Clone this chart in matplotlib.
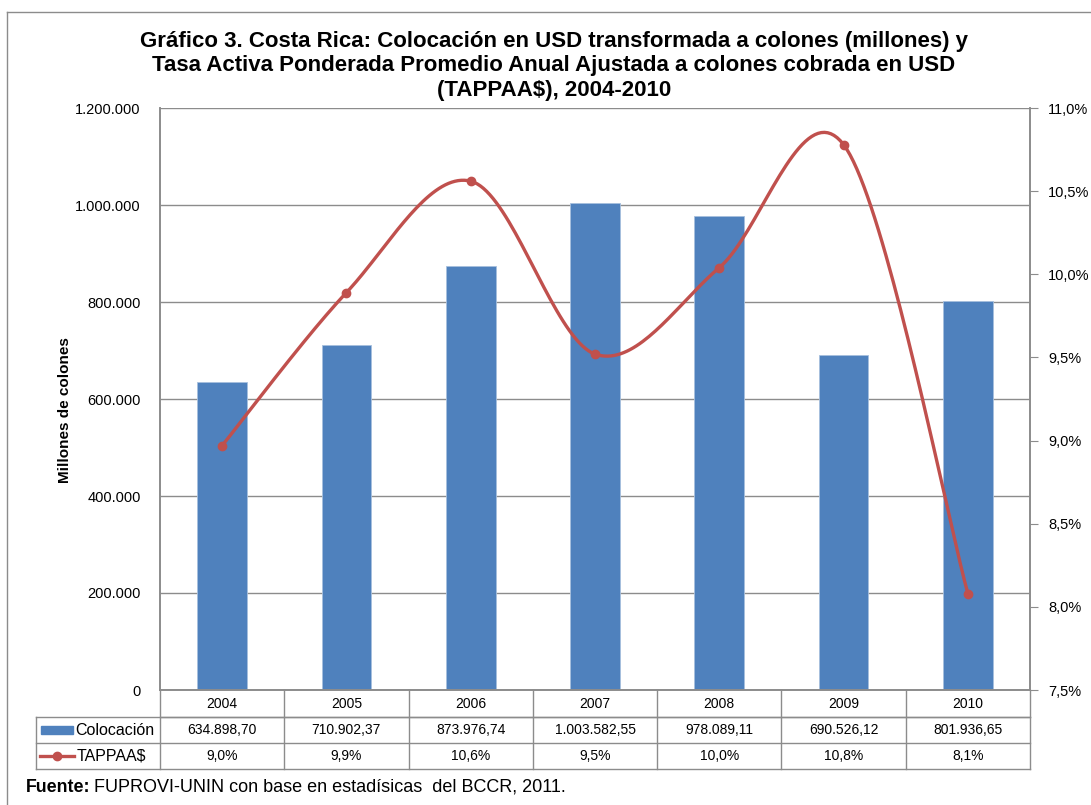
import numpy as np
import matplotlib
matplotlib.use("Agg")
import matplotlib.pyplot as plt
from matplotlib.lines import Line2D
from matplotlib.patches import Rectangle
from matplotlib.transforms import blended_transform_factory

plt.rcParams['font.family'] = ['Liberation Sans', 'DejaVu Sans']

# ---- data ----
years = ["2004", "2005", "2006", "2007", "2008", "2009", "2010"]
colocacion = [634898.70, 710902.37, 873976.74, 1003582.55, 978089.11, 690526.12, 801936.65]
tappaa = [8.97, 9.89, 10.56, 9.52, 10.04, 10.78, 8.08]
colocacion_labels = ["634.898,70", "710.902,37", "873.976,74", "1.003.582,55",
                     "978.089,11", "690.526,12", "801.936,65"]
tappaa_labels = ["9,0%", "9,9%", "10,6%", "9,5%", "10,0%", "10,8%", "8,1%"]
left_ticks = [0, 200000, 400000, 600000, 800000, 1000000, 1200000]
left_tick_labels = ["0", "200.000", "400.000", "600.000", "800.000", "1.000.000", "1.200.000"]
right_ticks = [7.5, 8.0, 8.5, 9.0, 9.5, 10.0, 10.5, 11.0]
right_tick_labels = ["7,5%", "8,0%", "8,5%", "9,0%", "9,5%", "10,0%", "10,5%", "11,0%"]

BLUE = "#4F81BD"
RED = "#C0504D"
GRID = "#8C8C8C"

W, H = 1091, 805
fig = plt.figure(figsize=(W / 100, H / 100), dpi=100)


def fx(px):
    return px / W


def fy(py):
    return 1 - py / H


# plot area in pixels
L, R, T, B = 160, 1030, 108, 690
ax = fig.add_axes([fx(L), fy(B), fx(R - L), (B - T) / H])
ax2 = ax.twinx()

x = np.arange(len(years))
ax.bar(x, colocacion, width=0.4, color=BLUE, edgecolor="#A7C0DE", linewidth=0.6, zorder=2)
ax.set_xlim(-0.5, len(years) - 0.5)
ax.set_ylim(0, 1200000)
ax.set_yticks(left_ticks)
ax.set_yticklabels(left_tick_labels, fontsize=10.5)
ax.set_xticks([])
ax.yaxis.grid(True, color=GRID, linewidth=1)
ax.set_axisbelow(True)
ax.tick_params(axis='y', length=0, pad=14)
for s in ax.spines.values():
    s.set_color(GRID)
    s.set_linewidth(1.2)
ax.spines['top'].set_visible(False)


# smoothed line (Catmull-Rom through the points)
def smooth(xs, ys, n=40):
    xs = np.asarray(xs, float)
    ys = np.asarray(ys, float)
    px, py = [], []
    for i in range(len(xs) - 1):
        p0 = (xs[i], ys[i])
        p3 = (xs[i + 1], ys[i + 1])
        prev = (xs[i - 1], ys[i - 1]) if i > 0 else p0
        nxt = (xs[i + 2], ys[i + 2]) if i + 2 < len(xs) else p3
        c1 = (p0[0] + (p3[0] - prev[0]) / 6, p0[1] + (p3[1] - prev[1]) / 6)
        c2 = (p3[0] - (nxt[0] - p0[0]) / 6, p3[1] - (nxt[1] - p0[1]) / 6)
        t = np.linspace(0, 1, n)
        bx = (1 - t) ** 3 * p0[0] + 3 * (1 - t) ** 2 * t * c1[0] + 3 * (1 - t) * t ** 2 * c2[0] + t ** 3 * p3[0]
        by = (1 - t) ** 3 * p0[1] + 3 * (1 - t) ** 2 * t * c1[1] + 3 * (1 - t) * t ** 2 * c2[1] + t ** 3 * p3[1]
        px.extend(bx)
        py.extend(by)
    return np.array(px), np.array(py)


sx, sy = smooth(x, tappaa)
ax2.plot(sx, sy, color=RED, linewidth=2.4, solid_capstyle='round', zorder=3)
ax2.plot(x, tappaa, 'o', color=RED, markersize=6, zorder=4)
ax2.set_ylim(7.5, 11.0)
ax2.set_yticks(right_ticks)
ax2.set_yticklabels(right_tick_labels, fontsize=10.5)
ax2.tick_params(axis='y', length=6, color=GRID, pad=7)
for s in ax2.spines.values():
    s.set_color(GRID)
    s.set_linewidth(1.2)
ax2.spines['top'].set_visible(False)

# y-axis title
fig.text(fx(65), fy(410), "Millones de colones", rotation=90, ha='center', va='center',
         fontsize=11, fontweight='bold')

# title
fig.text(fx(554), fy(66),
         "Gráfico 3. Costa Rica: Colocación en USD transformada a colones (millones) y\n"
         "Tasa Activa Ponderada Promedio Anual Ajustada a colones cobrada en USD\n"
         "(TAPPAA$), 2004-2010",
         ha='center', va='center', fontsize=16, fontweight='bold', linespacing=1.22)

# data table below the plot
tr = blended_transform_factory(ax.transData, fig.transFigure)
row_y = [690, 717, 743, 769]
lw = 1.0
fig.add_artist(Line2D([fx(L), fx(R)], [fy(row_y[1])] * 2, color=GRID, lw=lw))
for yy in row_y[1:]:
    fig.add_artist(Line2D([fx(36), fx(R)], [fy(yy)] * 2, color=GRID, lw=lw))
for i in range(len(years) + 1):
    xb = i - 0.5
    fig.add_artist(Line2D([xb, xb], [fy(row_y[0]), fy(row_y[3])], color=GRID, lw=lw, transform=tr))
fig.add_artist(Line2D([fx(36), fx(36)], [fy(row_y[1]), fy(row_y[3])], color=GRID, lw=lw))

for i in range(len(years)):
    fig.text(i, fy((row_y[0] + row_y[1]) / 2), years[i], transform=tr,
             ha='center', va='center', fontsize=10)
    fig.text(i, fy((row_y[1] + row_y[2]) / 2), colocacion_labels[i], transform=tr,
             ha='center', va='center', fontsize=10)
    fig.text(i, fy((row_y[2] + row_y[3]) / 2), tappaa_labels[i], transform=tr,
             ha='center', va='center', fontsize=10)

# legend keys inside the table
ym1 = (row_y[1] + row_y[2]) / 2
fig.add_artist(Rectangle((fx(41), fy(ym1 + 4)), fx(32), (8 / H), color=BLUE))
fig.text(fx(75), fy(ym1), "Colocación", ha='left', va='center', fontsize=11.5)
ym2 = (row_y[2] + row_y[3]) / 2
fig.add_artist(Line2D([fx(40), fx(74)], [fy(ym2)] * 2, color=RED, lw=2.4))
fig.add_artist(Line2D([fx(57)], [fy(ym2)], color=RED, marker='o', markersize=6))
fig.text(fx(77), fy(ym2), "TAPPAA$", ha='left', va='center', fontsize=11.5)

# source note: bold lead-in followed by regular text
lead = fig.text(fx(26), fy(787), "Fuente:", ha='left', va='center', fontsize=12.8, fontweight='bold')
fig.canvas.draw()
bb = lead.get_window_extent()
fig.text(fx(bb.x1 + 3), fy(787), "FUPROVI-UNIN con base en estadísicas  del BCCR, 2011.",
         ha='left', va='center', fontsize=13)

# outer chart border (top and left edges)
fig.add_artist(Line2D([fx(7), fx(W)], [fy(12)] * 2, color="#8C8C8C", lw=1))
fig.add_artist(Line2D([fx(7), fx(7)], [fy(12), 0], color="#8C8C8C", lw=1))

fig.savefig("out.png", dpi=100)
